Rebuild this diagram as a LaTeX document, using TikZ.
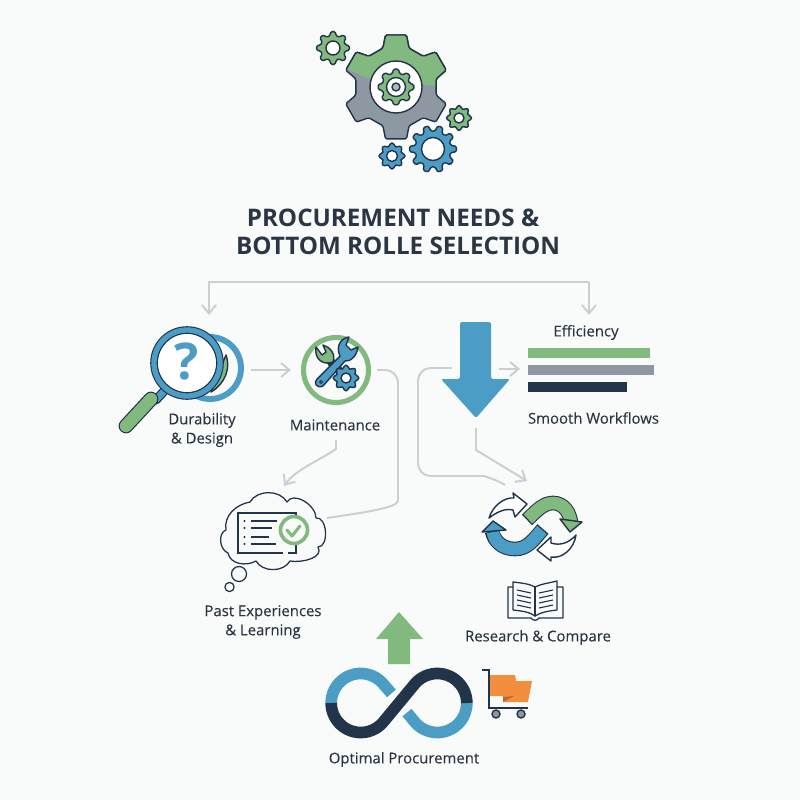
\documentclass[tikz,border=0pt]{standalone}
\usepackage{fontspec}
\setmainfont{Open Sans}
\newfontfamily\labelfont[FakeBold=0.18]{Open Sans}
\usetikzlibrary{arrows.meta}

\definecolor{bgpage}{HTML}{F9FAFA}
\definecolor{navy}{HTML}{22344A}
\definecolor{inkdark}{HTML}{2B3644}
\definecolor{leaf}{HTML}{82B97E}
\definecolor{sky}{HTML}{4B9DC5}
\definecolor{slate}{HTML}{8E98A3}
\definecolor{wire}{HTML}{CBCFD2}
\definecolor{amber}{HTML}{F28F3F}
\definecolor{rust}{HTML}{C4652B}

\tikzset{
    conn/.style={draw=wire, line width=1.4pt, rounded corners=9pt},
    connarrow/.style={conn, -{Straight Barb[length=6pt,width=10pt]}},
    label/.style={text=inkdark, font=\labelfont\fontsize{10.6}{12.6}\selectfont, align=center, inner sep=0pt},
    headline/.style={text=inkdark, font=\fontsize{17.2}{20}\selectfont\bfseries, inner sep=0pt},
    outline/.style={draw=navy, line width=1pt, line join=round},
    thinline/.style={draw=navy, line width=0.9pt, line cap=round, line join=round}
}

% gear: x, y, outer radius, root radius, teeth, rotation, fill
\newcommand{\gearicon}[7]{
    \pgfmathsetmacro{\gearstep}{360/#5}
    \filldraw[outline, rounded corners=1pt, fill=#7]
        ({#1+#4*cos(#6-0.31*\gearstep)},{#2+#4*sin(#6-0.31*\gearstep)})
        \foreach \i in {1,...,#5}{
            -- ({#1+#3*cos(#6+(\i-1)*\gearstep-0.19*\gearstep)},{#2+#3*sin(#6+(\i-1)*\gearstep-0.19*\gearstep)})
            -- ({#1+#3*cos(#6+(\i-1)*\gearstep+0.19*\gearstep)},{#2+#3*sin(#6+(\i-1)*\gearstep+0.19*\gearstep)})
            -- ({#1+#4*cos(#6+(\i-1)*\gearstep+0.31*\gearstep)},{#2+#4*sin(#6+(\i-1)*\gearstep+0.31*\gearstep)})
            -- ({#1+#4*cos(#6+\i*\gearstep-0.31*\gearstep)},{#2+#4*sin(#6+\i*\gearstep-0.31*\gearstep)})
        } -- cycle;
}

\begin{document}
\begin{tikzpicture}[x=0.025cm, y=-0.025cm]
    \useasboundingbox (0,0) rectangle (800,800);
    \fill[bgpage] (0,0) rectangle (800,800);

    %% Gears
    \begin{scope}
        \gearicon{396}{87}{53}{41}{6}{-90}{slate}
        \begin{scope}
            \clip (340,20) -- (340,66) -- (370,79) -- (420,84) -- (450,88) -- (450,20) -- cycle;
            \gearicon{396}{87}{53}{41}{6}{-90}{leaf}
        \end{scope}
        \filldraw[outline, fill=white] (396,87) circle (26);
        \gearicon{396}{87}{18}{14}{8}{0}{leaf}
        \filldraw[outline, fill=white] (396,87) circle (9.5);
        \filldraw[outline, fill=slate!70] (396,87) circle (4);

        \gearicon{333}{48}{16.5}{12.5}{8}{0}{leaf}
        \filldraw[outline, fill=white] (333,48) circle (7);
        \gearicon{459}{118}{12.5}{9.5}{8}{0}{leaf}
        \filldraw[outline, fill=white] (459,118) circle (5);
        \gearicon{433}{149}{23.5}{18}{10}{0}{sky}
        \filldraw[outline, fill=white] (433,149) circle (11.5);
        \gearicon{392}{156}{13}{10}{8}{0}{sky}
        \filldraw[outline, fill=white] (392,156) circle (5.5);
    \end{scope}

    %% Title
    \node[headline] (titleone) at (393,218) {PROCUREMENT NEEDS \&};
    \node[headline] (titletwo) at (398,246) {BOTTOM ROLLE SELECTION};

    %% Magnifier
    \begin{scope}
        \draw[sky, line width=4.2pt] (210,368) circle (31);
        \filldraw[outline, fill=leaf] (226,355) .. controls (231,368) and (225,384) .. (211,392) -- cycle;
        \fill[bgpage] (187,363) circle (36);
        \draw[navy, line width=6.5pt, line cap=round] (165,390) -- (156,400);
        \draw[sky, line width=4.8pt] (165,390) -- (156,400);
        \draw[navy, line width=10.5pt, line cap=round] (151,399) -- (126,426);
        \draw[leaf, line width=8.8pt, line cap=round] (151,399) -- (126,426);
        \filldraw[draw=navy, line width=1pt, fill=white] (187,363) circle (30);
        \draw[navy, line width=5.4pt] (187,363) circle (33);
        \draw[sky, line width=3.8pt] (187,363) circle (33);
        \node[inner sep=0pt, text=sky, font=\fontsize{36}{36}\selectfont\bfseries] (question) at (187,362) {?};
    \end{scope}
    \node[label] (durability) at (202,430) {Durability\\[1pt]\& Design};

    %% Maintenance
    \begin{scope}
        \filldraw[draw=leaf, line width=3.6pt, fill=bgpage] (336,370) circle (32.5);
        % green wrench
        \draw[navy, line width=6pt, line cap=round] (331,362) -- (342,374);
        \filldraw[outline, fill=leaf] (316,347) .. controls (314,358) and (322,366) .. (333,362) .. controls (336,354) and (330,347) .. (323,345) -- (326,352) -- (322,355) -- cycle;
        % blue wrench
        \filldraw[outline, fill=sky] (317,379) -- (340,356) .. controls (335,345) and (342,338) .. (349,337) -- (346,345) -- (351,350) -- (358,347) .. controls (357,356) and (350,362) .. (345,361) -- (323,386) .. controls (317,389) and (313,383) .. (317,379) -- cycle;
        \filldraw[fill=white, draw=navy, line width=0.7pt] (321,382) circle (1.4);
        \gearicon{346}{378}{12.8}{9.8}{8}{0}{sky}
        \filldraw[outline, fill=white] (346,378) circle (5);
    \end{scope}
    \node[label] (maintenance) at (335,425) {Maintenance};

    %% Cloud
    \begin{scope}
        \filldraw[thinline, fill=bgpage] (226,530) to[out=100,in=190] (250,502)
            to[out=60,in=120] (287,502) to[out=60,in=90] (316,518)
            to[out=10,in=0] (318,547) to[out=-60,in=-10] (290,561)
            to[out=-120,in=-60] (256,561) to[out=-150,in=-80] (228,553)
            to[out=160,in=200] (226,530) -- cycle;
        \draw[navy, line width=0.9pt] (283,553) -- (238,553) -- (238,513) -- (296,513) -- (296,553) -- (288,553);
        \foreach \rowy/\dashend in {521/277, 528/272, 537/269, 544/276}{
            \fill[navy] (244.5,\rowy) circle (1.2);
            \draw[navy, line width=0.9pt] (251,\rowy) -- (\dashend,\rowy);
        }
        \filldraw[draw=leaf, line width=2.6pt, fill=bgpage] (294,530) circle (13.5);
        \draw[leaf, line width=2.2pt, line cap=round, line join=round] (287,530) -- (292,536) -- (300,526);
        \draw[thinline] (239,574) circle (7.5);
        \draw[thinline] (229.5,587) circle (4.6);
    \end{scope}
    \node[label] (experiences) at (263,622) {Past Experiences\\[1pt]\& Learning};

    %% Big arrow and bars
    \fill[sky, rounded corners=1.5pt] (460,322) -- (491,322) -- (491,379) -- (510,379) -- (476,418) -- (441,379) -- (460,379) -- cycle;
    \node[label] (efficiency) at (586,332.5) {Efficiency};
    \fill[leaf] (528,348) rectangle (650,358);
    \fill[slate] (528,365) rectangle (654,375);
    \fill[navy] (528,382) rectangle (627,392);
    \node[label] (workflows) at (593.5,418) {Smooth Workflows};

    %% Cycle arrows
    \begin{scope}
        \draw[navy, line width=10.4pt] (527,520) .. controls (537,510) and (544,503) .. (553,503) .. controls (564,503) and (570,513) .. (571,523);
        \draw[leaf, line width=8.9pt] (528,519) .. controls (537,510) and (544,503) .. (553,503) .. controls (564,503) and (570,513) .. (571,523);
        \filldraw[outline, fill=leaf] (560,519) -- (582,522) -- (570,532) -- cycle;
        \draw[navy, line width=10.4pt] (543,529) .. controls (534,539) and (528,549) .. (515,549) .. controls (502,549) and (494,541) .. (492,531);
        \draw[sky, line width=8.9pt] (542,530) .. controls (534,539) and (528,549) .. (515,549) .. controls (502,549) and (494,541) .. (493,532);
        \filldraw[outline, fill=sky] (482,532) -- (493,521) -- (506,530) -- cycle;
        \filldraw[outline, fill=white] (489,518) .. controls (493,505) and (505,497) .. (514,498) -- (513,493) -- (527,504) -- (515,517) -- (513,510) .. controls (505,508) and (497,512) .. (489,518) -- cycle;
        \filldraw[outline, fill=white] (576,535) .. controls (574,549) and (562,559) .. (551,557) -- (551,561) -- (537,550) -- (551,537) -- (551,543) .. controls (560,546) and (569,543) .. (576,535) -- cycle;
    \end{scope}

    %% Book
    \begin{scope}
        \draw[thinline] (513,587) -- (508,587) -- (508,618) -- (531,618) .. controls (533,621) and (537,621) .. (539,618) -- (563,618) -- (563,587) -- (557,587);
        \draw[thinline] (513,582) .. controls (522,583) and (530,584) .. (535,587) .. controls (541,584) and (549,583) .. (557,581) -- (557,610) .. controls (549,611) and (541,612) .. (535,616) .. controls (530,612) and (522,611) .. (513,610) -- cycle;
        \draw[thinline] (535,587) -- (535,616);
        \foreach \rowy in {590,595,600,605}{
            \draw[navy, line width=0.8pt] (517,\rowy) -- (531,\rowy+3);
            \draw[navy, line width=0.8pt] (539,\rowy+3) -- (553,\rowy);
        }
    \end{scope}
    \node[label] (research) at (538,637.5) {Research \& Compare};

    %% Up arrow
    \fill[leaf] (399,612) -- (423,639) -- (410,639) -- (410,664) -- (388,664) -- (388,639) -- (376,639) -- cycle;

    %% Infinity
    \begin{scope}
        \draw[sky, line width=8.3pt] plot[domain=180:320.4, samples=40, smooth] ({360.7+29.5*cos(\x)},{703+29.5*sin(\x)}) -- (391.5,693.4);
        \draw[sky, line width=8.3pt] plot[domain=0:140.4, samples=40, smooth] ({437.3+29.5*cos(\x)},{703+29.5*sin(\x)}) -- (407,712.6);
        \draw[navy, line width=8.3pt] plot[domain=180:39.6, samples=40, smooth] ({360.7+29.5*cos(\x)},{703+29.5*sin(\x)}) -- plot[domain=219.6:360, samples=40, smooth] ({437.3+29.5*cos(\x)},{703+29.5*sin(\x)});
    \end{scope}
    \node[label] (optimal) at (404,759.5) {Optimal Procurement};

    %% Cart
    \begin{scope}
        \fill[amber] (490,675) -- (515,675) -- (516,681) -- (532,681) -- (528,702) -- (503,702) -- (503,696) -- (490,696) -- cycle;
        \fill[rust] (503,697) -- (514,696) -- (503,702) -- cycle;
        \draw[navy, line width=1pt] (482,670) -- (489,670) -- (489,708) -- (528,708);
        \filldraw[draw=navy, line width=1pt, fill=slate] (496,714) circle (4);
        \filldraw[draw=navy, line width=1pt, fill=slate] (521,714) circle (4);
    \end{scope}

    %% Connectors
    \coordinate (topleft) at (209,282);
    \coordinate (topright) at (589,282);
    \coordinate (dropleft) at (209,315);
    \coordinate (dropright) at (589,315);
    \draw[connarrow, rounded corners=0pt] (topright) -- (topleft) -- (dropleft);
    \draw[connarrow, rounded corners=0pt] (topright) -- (dropright);

    \coordinate (lensout) at (251,370);
    \coordinate (wrenchin) at (291,370);
    \draw[connarrow, rounded corners=0pt] (lensout) -- (wrenchin);

    \coordinate (wrenchout) at (377,370);
    \coordinate (wrenchbend) at (398,370);
    \coordinate (cloudout) at (327,518);
    \draw[conn] (wrenchout) -- (wrenchbend) -- (398,488) .. controls (398,508) and (360,513) .. (cloudout);

    \coordinate (labelout) at (336,440);
    \coordinate (cloudin) at (284,486);
    \draw[connarrow, rounded corners=0pt] (labelout) -- (336,449) .. controls (320,460) and (295,470) .. (cloudin);

    \coordinate (arrowright) at (499,369);
    \coordinate (barsin) at (520,369);
    \draw[connarrow, rounded corners=0pt] (arrowright) -- (barsin);

    \coordinate (arrowleft) at (452,368);
    \coordinate (leftbend) at (418,368);
    \coordinate (cycleend) at (505,485);
    \draw[conn] (arrowleft) -- (leftbend) -- (418,476) -- (470,476) .. controls (485,476) and (497,480) .. (cycleend);

    \coordinate (arrowtip) at (476,428);
    \coordinate (cyclein) at (527,481);
    \draw[connarrow, rounded corners=0pt] (arrowtip) -- (476,450) -- (cyclein);
\end{tikzpicture}
\end{document}
